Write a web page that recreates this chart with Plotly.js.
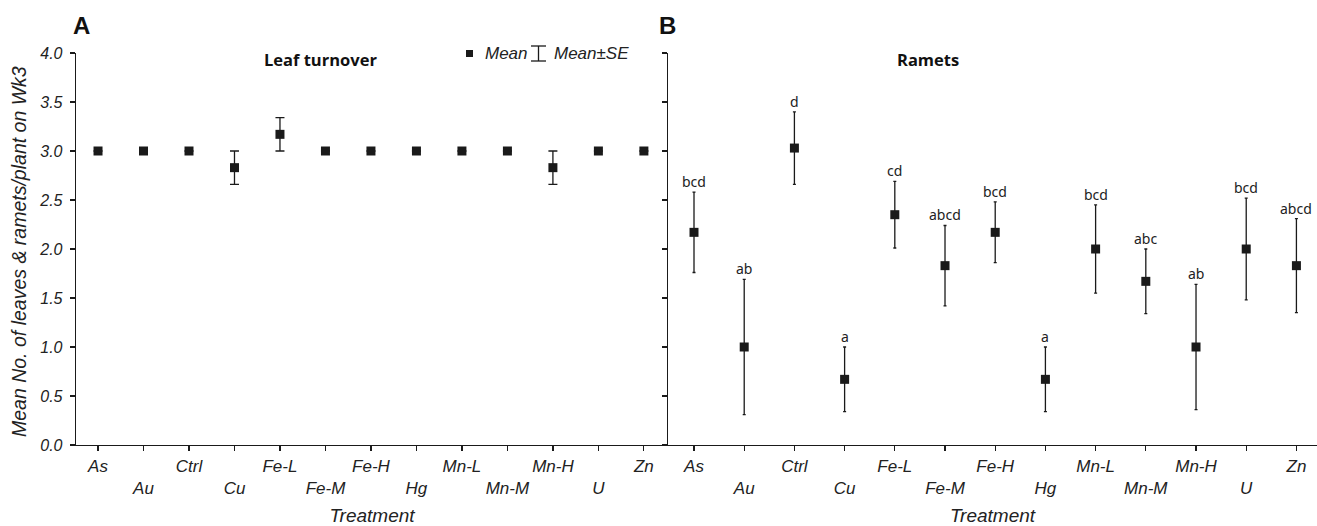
<!DOCTYPE html>
<html><head><meta charset="utf-8">
<script src="https://cdn.plot.ly/plotly-3.0.1.min.js"></script>
<style>html,body{margin:0;padding:0;background:#fff}</style>
</head><body><div id="chart" style="width:1317px;height:526px"></div>
<script>
// ---- data ----
const treatments = ["As","Au","Ctrl","Cu","Fe-L","Fe-M","Fe-H","Hg","Mn-L","Mn-M","Mn-H","U","Zn"];
const leafMean = [3.0,3.0,3.0,2.83,3.17,3.0,3.0,3.0,3.0,3.0,2.83,3.0,3.0];
const leafSE   = [0,0,0,0.17,0.17,0,0,0,0,0,0.17,0,0];
const rametMean = [2.17,1.0,3.03,0.67,2.35,1.83,2.17,0.67,2.0,1.67,1.0,2.0,1.83];
const rametSE   = [0.41,0.69,0.37,0.33,0.34,0.41,0.31,0.33,0.45,0.33,0.64,0.52,0.48];
const rametLetters = ["bcd","ab","d","a","cd","abcd","bcd","a","bcd","abc","ab","bcd","abcd"];
const yTickVals = [0,0.5,1,1.5,2,2.5,3,3.5,4];
const yTickText = ["0.0","0.5","1.0","1.5","2.0","2.5","3.0","3.5","4.0"];
const panelTitles = ["Leaf turnover","Ramets"];

// ---- geometry (pixels) ----
const W = 1317, H = 526;
const px = v => v / W, py = v => 1 - v / H;
const ink = '#1a1a1a';
const ARIAL = 'Liberation Sans, Arial, sans-serif';
const xIdx = treatments.map((t,i)=>i);
const tickText = treatments.map((t,i)=> i % 2 ? '<br>' + t : t);

const traces = [
  {x: xIdx, y: leafMean, xaxis:'x', yaxis:'y', type:'scatter', mode:'markers',
   marker:{symbol:'square', size:9, color:ink},
   error_y:{type:'data', array:leafSE, visible:true, color:ink, thickness:1.3, width:4.5},
   showlegend:false, hoverinfo:'skip'},
  {x: xIdx, y: rametMean, xaxis:'x2', yaxis:'y2', type:'scatter', mode:'markers',
   marker:{symbol:'square', size:9, color:ink},
   error_y:{type:'data', array:rametSE, visible:true, color:ink, thickness:1.3, width:1.5},
   showlegend:false, hoverinfo:'skip'}
];

const xCommon = {showline:true, linecolor:ink, linewidth:1.3, ticks:'outside', ticklen:5,
  tickcolor:ink, tickwidth:1.2, showgrid:false, zeroline:false, tickmode:'array',
  tickvals:xIdx, ticktext:tickText, tickangle:0,
  tickfont:{family:ARIAL, size:17, color:'#222', style:'italic'}};
const yCommon = {showline:true, linecolor:ink, linewidth:1.3, ticks:'outside', ticklen:5,
  tickcolor:ink, tickwidth:1.2, showgrid:false, zeroline:false, range:[0,4],
  tickmode:'array', tickvals:yTickVals, ticktext:yTickText,
  domain:[1-445/H, 1-53/H]};
const xTitle = {text:'Treatment', font:{family:ARIAL, size:19, color:'#222', style:'italic'}, standoff:15};

const layout = {
  width:W, height:H, margin:{l:0,r:0,t:0,b:0}, paper_bgcolor:'#fff', plot_bgcolor:'rgba(0,0,0,0)',
  showlegend:false,
  xaxis: Object.assign({}, xCommon, {domain:[px(76), px(668)], range:[-0.484, 12.53], anchor:'y', title:xTitle}),
  xaxis2: Object.assign({}, xCommon, {domain:[px(668), 1], range:[-0.518, 12.41], anchor:'y2', title:xTitle}),
  yaxis: Object.assign({}, yCommon, {anchor:'x', showticklabels:true, ticklabelstandoff:4,
    tickfont:{family:ARIAL, size:16, color:'#222', style:'italic'}}),
  yaxis2: Object.assign({}, yCommon, {anchor:'x2', showticklabels:false}),
  annotations: [],
  shapes: []
};

function note(xp, yp, text, font, extra) {
  layout.annotations.push(Object.assign({x:px(xp), y:py(yp), xref:'paper', yref:'paper', text:text,
    showarrow:false, xanchor:'center', yanchor:'middle', font:font}, extra || {}));
}

// significance letters
rametLetters.forEach((s,i)=>{
  layout.annotations.push({x:xIdx[i], y:rametMean[i]+rametSE[i], xref:'x2', yref:'y2',
    text:s, showarrow:false, xanchor:'center', yanchor:'bottom', yshift:-1,
    font:{family:'Noto Sans, Open Sans, sans-serif', size:14, color:'#222'}});
});
// panel titles
note(320, 60, '<b>'+panelTitles[0]+'</b>', {family:'Open Sans, sans-serif', size:16.5, color:'#111'});
note(928, 60, '<b>'+panelTitles[1]+'</b>', {family:'Open Sans, sans-serif', size:16.5, color:'#111'});
// panel letters
note(81, 25, '<b>A</b>', {family:ARIAL, size:24, color:'#111'});
note(667, 26, '<b>B</b>', {family:ARIAL, size:24, color:'#111'});
// y title
note(19, 252, 'Mean No. of leaves &amp; ramets/plant on Wk3', {family:ARIAL, size:19.5, color:'#222', style:'italic'}, {textangle:-90});
// legend
layout.shapes.push({type:'rect', xref:'paper', yref:'paper', x0:px(466), x1:px(473), y0:py(50), y1:py(57),
  fillcolor:ink, line:{width:0}});
note(483, 54, 'Mean', {family:ARIAL, size:17, color:'#222', style:'italic'}, {xanchor:'left'});
layout.shapes.push({type:'line', xref:'paper', yref:'paper', x0:px(538.5), x1:px(538.5), y0:py(46), y1:py(61), line:{color:ink, width:1.3}});
layout.shapes.push({type:'line', xref:'paper', yref:'paper', x0:px(531), x1:px(546), y0:py(46), y1:py(46), line:{color:ink, width:1.3}});
layout.shapes.push({type:'line', xref:'paper', yref:'paper', x0:px(531), x1:px(546), y0:py(61), y1:py(61), line:{color:ink, width:1.3}});
note(552, 54, 'Mean±SE', {family:ARIAL, size:17, color:'#222', style:'italic'}, {xanchor:'left'});

Plotly.newPlot('chart', traces, layout, {staticPlot:true});
</script></body></html>
